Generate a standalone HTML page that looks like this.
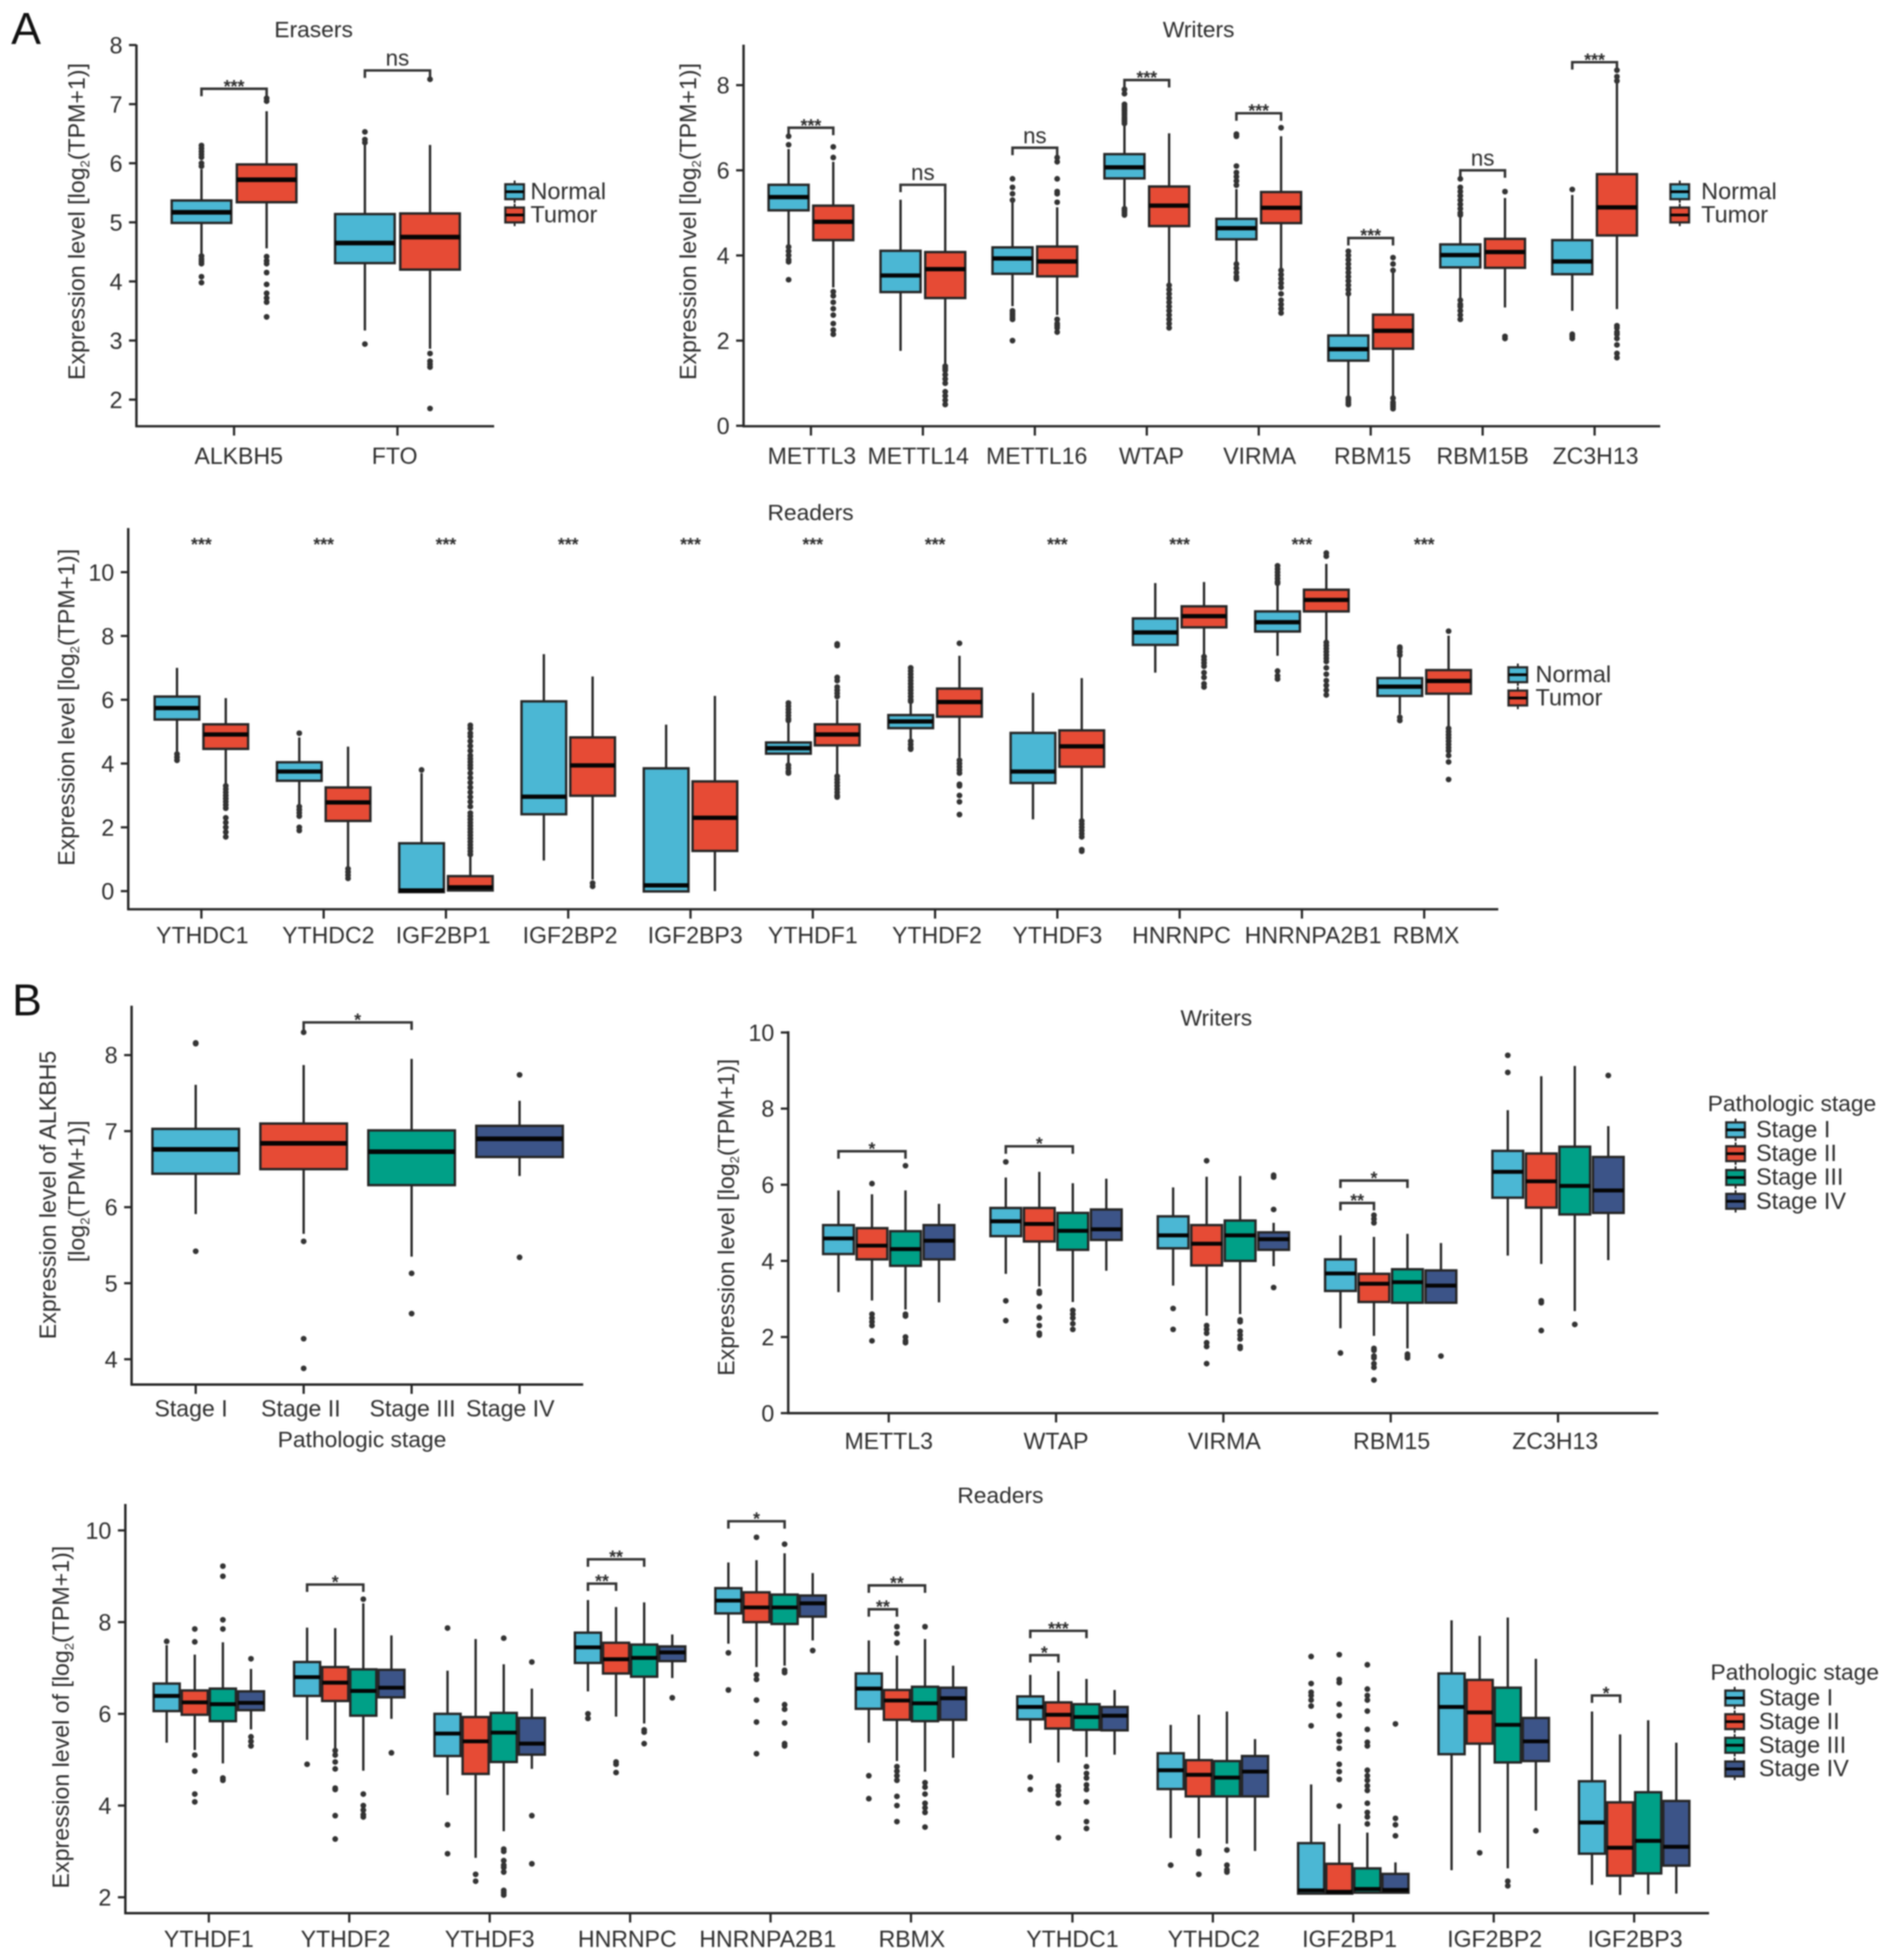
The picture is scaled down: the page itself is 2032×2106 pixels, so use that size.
<!DOCTYPE html>
<html lang="en">
<head>
<meta charset="utf-8">
<title>m6A regulator expression boxplots</title>
<style>
html,body{margin:0;padding:0;background:#fff;}
svg{display:block;filter:blur(0.8px);}
text{font-family:"Liberation Sans",Arial,sans-serif;fill:#2e2e2e;}
</style>
</head>
<body>
<svg id="figure" xmlns="http://www.w3.org/2000/svg" width="2032" height="2106" viewBox="0 0 2032 2106">
  <rect width="2032" height="2106" fill="#fff"/>
  <text x="12" y="47" font-size="48" style="fill:#111">A</text>
  <text x="13" y="1091" font-size="48" style="fill:#111">B</text>

  <text x="337" y="40" font-size="24.5" text-anchor="middle">Erasers</text>
  <text x="1288" y="40" font-size="24.5" text-anchor="middle">Writers</text>
  <text x="871" y="559" font-size="24.5" text-anchor="middle">Readers</text>
  <text x="1307" y="1102" font-size="24.5" text-anchor="middle">Writers</text>
  <text x="1075" y="1615" font-size="24.5" text-anchor="middle">Readers</text>

  <text transform="translate(91,238) rotate(-90)" font-size="24.9" text-anchor="middle">Expression level [log<tspan font-size="14" dy="5">2</tspan><tspan dy="-5">(TPM+1)]</tspan></text>
  <text transform="translate(748,238) rotate(-90)" font-size="24.9" text-anchor="middle">Expression level [log<tspan font-size="14" dy="5">2</tspan><tspan dy="-5">(TPM+1)]</tspan></text>
  <text transform="translate(80,760) rotate(-90)" font-size="24.9" text-anchor="middle">Expression level [log<tspan font-size="14" dy="5">2</tspan><tspan dy="-5">(TPM+1)]</tspan></text>
  <text transform="translate(60,1284) rotate(-90)" font-size="24.9" text-anchor="middle">Expression level of ALKBH5</text>
  <text transform="translate(91,1280) rotate(-90)" font-size="24.9" text-anchor="middle">[log<tspan font-size="14" dy="5">2</tspan><tspan dy="-5">(TPM+1)]</tspan></text>
  <text transform="translate(789,1308) rotate(-90)" font-size="24.9" text-anchor="middle">Expression level [log<tspan font-size="14" dy="5">2</tspan><tspan dy="-5">(TPM+1)]</tspan></text>
  <text transform="translate(74,1845) rotate(-90)" font-size="24.9" text-anchor="middle">Expression level of [log<tspan font-size="14" dy="5">2</tspan><tspan dy="-5">(TPM+1)]</tspan></text>

  <text x="389" y="1555" font-size="24.5" text-anchor="middle">Pathologic stage</text>
  <text x="1826" y="1194" font-size="24.5" transform="translate(9,0)">Pathologic stage</text>
  <text x="1829" y="1805" font-size="24.5" transform="translate(9,0)">Pathologic stage</text>
</svg>

<script>
/* ---------- shared labels and colours ---------- */
const tumorNormalLabels = ["Normal", "Tumor"];
const stageLabels = ["Stage I", "Stage II", "Stage III", "Stage IV"];
const tumorNormalColors = ["#4BB7D4", "#E64B35"];
const stageColors = ["#4BB7D4", "#E64B35", "#00A087", "#3C5488"];

/* ---------- A: Erasers ---------- */
const erasersGenes = ["ALKBH5", "FTO"];
const erasersTicks = [2, 3, 4, 5, 6, 7, 8];
const erasersQ1 = [[4.99, 5.34], [4.31, 4.2]];
const erasersMedian = [[5.17, 5.72], [4.65, 4.75]];
const erasersQ3 = [[5.37, 5.98], [5.14, 5.15]];
const erasersLow = [[4.45, 4.56], [3.17, 2.86]];
const erasersHigh = [[5.9, 6.88], [6.35, 6.31]];
const erasersOutliers = [
  [[6.3, 6.25, 6.2, 6.15, 6.1, 6.0, 5.95, 4.43, 4.38, 4.34, 4.3, 4.08, 3.98],
   [7.1, 7.05, 4.42, 4.35, 4.3, 4.15, 3.95, 3.8, 3.72, 3.65, 3.4]],
  [[6.53, 6.4, 6.35, 2.94],
   [7.42, 2.78, 2.65, 2.6, 2.55, 1.85]]
];
const erasersBrackets = [[0, 0, 1, 7.26, "***"], [1, 0, 1, 7.57, "ns"]];

/* ---------- A: Writers ---------- */
const writersAGenes = ["METTL3", "METTL14", "METTL16", "WTAP", "VIRMA", "RBM15", "RBM15B", "ZC3H13"];
const writersATicks = [0, 2, 4, 6, 8];
const writersAQ1 = [[5.06, 4.36], [3.14, 3.0], [3.57, 3.51], [5.81, 4.69], [4.38, 4.76], [1.53, 1.81], [3.72, 3.71], [3.56, 4.47]];
const writersAMedian = [[5.37, 4.79], [3.53, 3.68], [3.93, 3.86], [6.07, 5.17], [4.64, 5.12], [1.8, 2.23], [4.01, 4.08], [3.86, 5.13]];
const writersAQ3 = [[5.66, 5.17], [4.11, 4.08], [4.19, 4.21], [6.38, 5.62], [4.86, 5.49], [2.12, 2.61], [4.26, 4.39], [4.36, 5.91]];
const writersALow = [[4.26, 3.25], [1.76, 1.43], [2.81, 2.6], [5.13, 3.35], [3.83, 3.68], [0.71, 0.71], [2.99, 2.78], [2.7, 2.74]];
const writersAHigh = [[6.5, 6.2], [5.31, 5.6], [5.27, 5.13], [7.05, 6.87], [5.56, 6.8], [3.07, 3.6], [4.91, 5.35], [5.42, 8.06]];
const writersAOutliers = [
  [[6.8, 6.6, 4.2, 4.1, 4.0, 3.9, 3.85, 3.43],
   [6.55, 6.3, 3.15, 3.05, 2.9, 2.75, 2.6, 2.4, 2.25, 2.15]],
  [[],
   [1.4, 1.35, 1.3, 1.2, 1.1, 1.0, 0.8, 0.7, 0.6, 0.5]],
  [[5.8, 5.6, 5.45, 5.3, 2.7, 2.65, 2.6, 2.55, 2.5, 2.0],
   [6.3, 6.2, 5.8, 5.5, 5.45, 5.25, 2.5, 2.4, 2.35, 2.3, 2.2]],
  [[7.9, 7.8, 7.55, 7.5, 7.45, 7.4, 7.35, 7.3, 7.25, 7.2, 7.15, 7.1, 5.1, 5.05, 5.0, 4.95],
   [3.3, 3.2, 3.1, 3.0, 2.9, 2.8, 2.7, 2.6, 2.5, 2.4, 2.3]],
  [[6.85, 6.8, 6.1, 5.95, 5.85, 5.75, 5.65, 3.8, 3.7, 3.6, 3.5, 3.45],
   [7.0, 3.65, 3.55, 3.45, 3.35, 3.25, 3.1, 2.95, 2.85, 2.75, 2.65]],
  [[4.1, 4.0, 3.9, 3.8, 3.7, 3.6, 3.5, 3.4, 3.3, 3.2, 3.1, 0.65, 0.6, 0.55, 0.5],
   [3.95, 3.8, 3.65, 0.65, 0.55, 0.5, 0.45, 0.4]],
  [[5.8, 5.6, 5.5, 5.4, 5.3, 5.2, 5.1, 5.0, 4.95, 2.95, 2.85, 2.8, 2.7, 2.6, 2.5],
   [5.5, 2.1, 2.05]],
  [[5.55, 2.15, 2.1, 2.05],
   [8.35, 8.2, 8.1, 2.35, 2.3, 2.2, 2.15, 2.05, 1.9, 1.7, 1.6]]
];
const writersABrackets = [
  [0, 0, 1, 7.0, "***"], [1, 0, 1, 5.66, "ns"], [2, 0, 1, 6.53, "ns"], [3, 0, 1, 8.12, "***"],
  [4, 0, 1, 7.34, "***"], [5, 0, 1, 4.41, "***"], [6, 0, 1, 6.0, "ns"], [7, 0, 1, 8.54, "***"]
];

/* ---------- A: Readers ---------- */
const readersAGenes = ["YTHDC1", "YTHDC2", "IGF2BP1", "IGF2BP2", "IGF2BP3", "YTHDF1", "YTHDF2", "YTHDF3", "HNRNPC", "HNRNPA2B1", "RBMX"];
const readersATicks = [0, 2, 4, 6, 8, 10];
const readersAQ1 = [[5.38, 4.46], [3.46, 2.2], [-0.03, 0.02], [2.41, 2.99], [-0.01, 1.26], [4.31, 4.57], [5.11, 5.47], [3.39, 3.9], [7.72, 8.27], [8.14, 8.77], [6.12, 6.19]];
const readersAMedian = [[5.74, 4.91], [3.75, 2.78], [0.02, 0.12], [2.96, 3.94], [0.18, 2.3], [4.48, 4.91], [5.32, 5.93], [3.75, 4.54], [8.11, 8.62], [8.43, 9.13], [6.41, 6.59]];
const readersAQ3 = [[6.1, 5.23], [4.04, 3.25], [1.5, 0.47], [5.95, 4.82], [3.85, 3.44], [4.66, 5.23], [5.52, 6.35], [4.96, 5.04], [8.55, 8.93], [8.77, 9.45], [6.68, 6.93]];
const readersALow = [[4.38, 3.36], [2.73, 0.75], [-0.03, 0.02], [0.96, 0.36], [0, 0], [4.0, 3.65], [4.72, 4.19], [2.25, 2.25], [6.85, 7.38], [7.38, 7.82], [5.54, 5.1]];
const readersAHigh = [[7.0, 6.05], [4.82, 4.53], [3.7, 1.13], [7.43, 6.73], [5.22, 6.12], [5.3, 6.0], [5.9, 7.38], [6.22, 6.68], [9.66, 9.69], [9.6, 10.26], [7.33, 8.01]];
const readersAOutliers = [
  [[4.3, 4.2, 4.1],
   [3.3, 3.2, 3.1, 3.0, 2.9, 2.8, 2.7, 2.6, 2.3, 2.15, 2.0, 1.85, 1.7]],
  [[4.95, 2.65, 2.55, 2.45, 2.35, 2.0, 1.9],
   [0.7, 0.6, 0.5, 0.4]],
  [[3.8],
   [5.2, 5.1, 4.95, 4.85, 4.7, 4.55, 4.4, 4.25, 4.15, 4.05, 3.95, 3.85, 3.7, 3.55, 3.4, 3.25, 3.1, 2.95, 2.8, 2.65, 2.45, 2.35, 2.25, 2.15, 2.05, 1.95, 1.85, 1.75, 1.65, 1.55, 1.45, 1.35, 1.25, 1.15]],
  [[],
   [0.25, 0.15]],
  [[],
   []],
  [[5.9, 5.8, 5.7, 5.6, 5.5, 5.4, 5.35, 3.95, 3.85, 3.75, 3.7],
   [7.75, 7.7, 6.7, 6.6, 6.4, 6.3, 6.2, 6.1, 3.6, 3.5, 3.4, 3.3, 3.2, 3.1, 3.0, 2.95]],
  [[7.0, 6.9, 6.8, 6.7, 6.6, 6.5, 6.4, 6.3, 6.2, 6.1, 6.0, 5.95, 4.7, 4.6, 4.5, 4.45],
   [7.77, 4.1, 4.0, 3.9, 3.8, 3.7, 3.35, 3.3, 3.0, 2.8, 2.4]],
  [[],
   [2.2, 2.1, 2.0, 1.9, 1.8, 1.7, 1.3, 1.25]],
  [[],
   [7.35, 7.25, 7.15, 7.05, 6.85, 6.7, 6.5, 6.4]],
  [[10.2, 10.1, 10.0, 9.9, 9.8, 9.7, 9.65, 6.9, 6.75, 6.65],
   [10.6, 10.5, 7.8, 7.7, 7.6, 7.5, 7.4, 7.3, 7.2, 7.0, 6.8, 6.6, 6.45, 6.3, 6.15]],
  [[7.65, 7.6, 7.5, 7.4, 5.45, 5.35],
   [8.15, 5.1, 5.0, 4.9, 4.8, 4.7, 4.6, 4.5, 4.4, 4.25, 4.05, 3.5]]
];
const readersASignificance = ["***", "***", "***", "***", "***", "***", "***", "***", "***", "***", "***"];
const readersASignificanceLevel = 10.97;

/* ---------- B: ALKBH5 by stage ---------- */
const alkbh5Stages = ["Stage I", "Stage II", "Stage III", "Stage IV"];
const alkbh5Ticks = [4, 5, 6, 7, 8];
const alkbh5Q1 = [[6.44], [6.5], [6.29], [6.66]];
const alkbh5Median = [[6.76], [6.84], [6.73], [6.9]];
const alkbh5Q3 = [[7.03], [7.1], [7.01], [7.07]];
const alkbh5Low = [[5.91], [5.65], [5.35], [6.41]];
const alkbh5High = [[7.61], [7.87], [7.95], [7.4]];
const alkbh5Outliers = [[[8.16, 8.15, 5.42]], [[8.3, 5.55, 4.27, 3.88]], [[5.13, 4.6]], [[7.74, 5.34]]];
const alkbh5Brackets = [[1, 2, 8.43, "*"]];

/* ---------- B: Writers ---------- */
const writersBGenes = ["METTL3", "WTAP", "VIRMA", "RBM15", "ZC3H13"];
const writersBTicks = [0, 2, 4, 6, 8, 10];
const writersBQ1 = [[4.18, 4.04, 3.87, 4.04], [4.65, 4.51, 4.29, 4.55], [4.33, 3.88, 4.0, 4.29], [3.21, 2.92, 2.9, 2.9], [5.66, 5.4, 5.22, 5.26]];
const writersBMedian = [[4.59, 4.4, 4.31, 4.53], [5.04, 4.97, 4.79, 4.83], [4.67, 4.45, 4.67, 4.57], [3.67, 3.4, 3.44, 3.35], [6.34, 6.09, 5.97, 5.85]];
const writersBQ3 = [[4.94, 4.86, 4.78, 4.94], [5.39, 5.39, 5.26, 5.35], [5.17, 4.94, 5.06, 4.75], [4.04, 3.66, 3.78, 3.75], [6.89, 6.82, 7.0, 6.73]];
const writersBLow = [[3.18, 2.96, 2.72, 2.91], [3.66, 3.33, 2.92, 3.74], [3.35, 2.56, 2.6, 3.86], [2.23, 2.03, 1.7, 2.88], [4.14, 3.92, 2.68, 4.02]];
const writersBHigh = [[5.85, 5.75, 5.85, 5.5], [6.19, 6.34, 6.04, 6.16], [5.93, 6.21, 6.23, 5.0], [4.67, 4.63, 4.71, 4.47], [7.96, 8.85, 9.12, 7.54]];
const writersBOutliers = [
  [[], [6.03, 2.6, 2.5, 2.4, 2.3, 1.9], [6.5, 2.6, 2.55, 2.0, 1.9, 1.85], []],
  [[6.6, 2.95, 2.43], [3.2, 3.15, 2.8, 2.5, 2.3, 2.1, 2.05], [2.7, 2.6, 2.5, 2.35, 2.2], []],
  [[2.75, 2.2], [6.63, 2.3, 2.2, 2.1, 1.85, 1.75, 1.3], [2.45, 2.4, 2.15, 2.05, 1.95, 1.75, 1.7], [6.25, 6.2, 5.35, 3.3]],
  [[1.58], [5.2, 5.1, 5.0, 1.7, 1.65, 1.5, 1.45, 1.3, 1.2, 0.87], [1.55, 1.5, 1.45], [1.5]],
  [[9.4, 8.95], [2.95, 2.9, 2.17], [2.33], [8.87]]
];
const writersBBrackets = [
  [0, 0, 2, 6.88, "*"], [1, 0, 2, 7.01, "*"], [3, 0, 1, 5.52, "**"], [3, 0, 2, 6.11, "*"]
];

/* ---------- B: Readers ---------- */
const readersBGenes = ["YTHDF1", "YTHDF2", "YTHDF3", "HNRNPC", "HNRNPA2B1", "RBMX", "YTHDC1", "YTHDC2", "IGF2BP1", "IGF2BP2", "IGF2BP3"];
const readersBTicks = [2, 4, 6, 8, 10];
const readersBQ1 = [[6.06, 5.98, 5.84, 6.08], [6.39, 6.28, 5.96, 6.36], [5.08, 4.69, 4.95, 5.11], [7.11, 6.88, 6.81, 7.15], [8.19, 8.0, 7.96, 8.12], [6.11, 5.87, 5.84, 5.87], [5.88, 5.68, 5.65, 5.64], [4.36, 4.2, 4.2, 4.2], [2.08, 2.08, 2.1, 2.1], [5.12, 5.35, 4.94, 4.97], [2.95, 2.47, 2.52, 2.69]];
const readersBMedian = [[6.39, 6.25, 6.21, 6.24], [6.8, 6.68, 6.5, 6.57], [5.57, 5.4, 5.59, 5.35], [7.45, 7.19, 7.22, 7.34], [8.47, 8.32, 8.32, 8.41], [6.55, 6.29, 6.23, 6.34], [6.15, 5.98, 5.93, 5.96], [4.77, 4.67, 4.61, 4.74], [2.15, 2.12, 2.18, 2.16], [6.15, 6.03, 5.76, 5.4], [3.63, 3.08, 3.23, 3.1]];
const readersBQ3 = [[6.66, 6.51, 6.55, 6.49], [7.13, 7.02, 6.97, 6.96], [6.0, 5.93, 6.02, 5.91], [7.77, 7.55, 7.51, 7.47], [8.74, 8.65, 8.6, 8.58], [6.88, 6.52, 6.59, 6.57], [6.38, 6.25, 6.21, 6.15], [5.14, 4.99, 4.97, 5.08], [3.18, 2.73, 2.63, 2.51], [6.88, 6.74, 6.57, 5.91], [4.53, 4.07, 4.29, 4.1]];
const readersBLow = [[5.37, 5.21, 4.92, 5.66], [5.43, 5.2, 4.76, 5.89], [4.23, 2.86, 3.44, 4.8], [6.49, 5.94, 5.79, 6.78], [7.53, 7.02, 7.05, 7.6], [5.37, 4.97, 4.74, 5.04], [5.36, 4.94, 5.06, 5.11], [3.29, 3.29, 3.17, 3.01], [2.08, 2.08, 2.1, 2.1], [2.59, 3.41, 2.63, 3.89], [2.27, 2.05, 2.06, 2.08]];
const readersBHigh = [[7.5, 7.29, 7.56, 6.98], [7.88, 7.87, 8.41, 7.71], [6.94, 7.63, 7.08, 6.55], [8.48, 8.33, 8.43, 7.73], [9.3, 9.35, 9.5, 9.07], [7.6, 7.27, 7.63, 7.05], [6.85, 6.93, 6.76, 6.52], [5.76, 5.98, 6.05, 5.45], [4.46, 3.6, 3.41, 2.76], [8.04, 7.7, 8.1, 7.2], [6.05, 5.55, 5.86, 5.37]];
const readersBOutliers = [
  [[7.58], [7.85, 7.57, 5.1, 4.75, 4.25, 4.08], [9.22, 9.0, 8.05, 7.85, 4.6, 4.55], [7.2, 5.5, 5.4, 5.3]],
  [[4.9], [5.2, 5.1, 4.95, 4.8, 4.38, 4.35, 3.78, 3.27], [8.5, 4.25, 4.0, 3.9, 3.8, 3.75], [5.15]],
  [[7.87, 3.58, 2.95], [2.5, 2.35], [7.65, 3.05, 3.0, 2.8, 2.7, 2.65, 2.55, 2.15, 2.1, 2.05], [7.13, 3.78, 2.73]],
  [[6.0, 5.9], [4.95, 4.9, 4.72], [5.65, 5.6, 5.35], [6.35]],
  [[7.33, 6.52], [9.85, 6.85, 6.75, 6.3, 5.82, 5.13], [9.7, 6.95, 6.9, 6.2, 6.1, 5.8, 5.35, 5.3], [7.38]],
  [[4.65, 4.15], [7.9, 7.75, 7.55, 4.85, 4.75, 4.65, 4.55, 4.2, 4.0, 3.65], [7.9, 4.5, 4.4, 4.25, 4.05, 3.95, 3.85, 3.53], []],
  [[4.62, 4.35], [4.42, 4.33, 4.23, 4.05, 3.3], [4.85, 4.7, 4.6, 4.45, 4.35, 4.08, 3.65, 3.5], []],
  [[2.7], [3.0, 2.95, 2.5], [3.03, 2.7, 2.6, 2.55], []],
  [[7.25, 6.66, 6.47, 6.4, 6.3, 6.17, 5.74], [7.29, 6.75, 6.68, 6.21, 5.96, 5.55, 5.4, 5.25, 4.9, 4.74, 4.57, 3.99], [7.07, 6.54, 6.4, 6.3, 6.06, 5.66, 5.38, 5.3, 4.77, 4.65, 4.55, 4.43, 4.33, 4.05, 3.85, 3.75, 3.6], [5.78, 3.72, 3.58, 3.34]],
  [[], [2.97], [2.35, 2.25], [3.45]],
  [[], [], [], []]
];
const readersBBrackets = [
  [1, 0, 2, 8.82, "*"], [3, 0, 2, 9.37, "**"], [3, 0, 1, 8.84, "**"], [4, 0, 2, 10.2, "*"],
  [5, 0, 2, 8.8, "**"], [5, 0, 1, 8.28, "**"], [6, 0, 2, 7.81, "***"], [6, 0, 1, 7.28, "*"], [10, 0, 1, 6.4, "*"]
];

/* ---------- drawing ---------- */
const SVGNS = "http://www.w3.org/2000/svg";
const figure = document.getElementById("figure");
const INK = "#262626";

function mk(tag, attrs, parent) {
  const node = document.createElementNS(SVGNS, tag);
  for (const key in attrs) node.setAttribute(key, attrs[key]);
  parent.appendChild(node);
  return node;
}

function drawPanel(p) {
  const root = mk("g", {}, figure);
  
  

  const yScale = v => p.y0 + (v - p.v0) * (p.y1 - p.y0) / (p.v1 - p.v0);
  const bandScale = i => p.first + i * p.step + (p.gapAfter !== undefined && i > p.gapAfter ? p.gap : 0);
  const groupCount = p.q1[0].length;
  const xScale = (i, g) => bandScale(i) + (g - (groupCount - 1) / 2) * p.dodge;
  const base = p.baseline;

  const yAxis = mk("line", {x1: p.left, x2: p.left, y1: p.top, y2: base + 1, stroke: INK, "stroke-width": 2.6}, root);
  
  
  const xAxis = mk("line", {x1: p.left - 1, x2: p.right, y1: base, y2: base, stroke: INK, "stroke-width": 2.6}, root);
  
  

  p.ticks.forEach(v => {
    const yy = yScale(v);
    const tick = mk("line", {x1: p.left - 8, x2: p.left, y1: yy, y2: yy, stroke: INK, "stroke-width": 2.4}, root);
    
    
    const lab = mk("text", {x: p.left - 15, y: yy + 9, "font-size": 25, "text-anchor": "end"}, root);
    lab.textContent = v;
    
    
  });

  p.genes.forEach((gene, i) => {
    const xx = bandScale(i);
    const tick = mk("line", {x1: xx, x2: xx, y1: base, y2: base + 10, stroke: INK, "stroke-width": 2.4}, root);
    
    
    const lab = mk("text", {x: xx + p.labelShift[i], y: p.labelY, "font-size": 24.8, "text-anchor": "middle"}, root);
    lab.textContent = gene;
    
    

    for (let g = 0; g < groupCount; g++) {
      const cx = xScale(i, g);
      const fill = p.colorByCategory ? p.colors[i] : p.colors[g];
      const gBox = mk("g", {}, root);
      
      

      const whisker = mk("line", {x1: cx, x2: cx, y1: yScale(p.high[i][g]), y2: yScale(p.low[i][g]), stroke: INK, "stroke-width": 2.5}, gBox);
      
      

      const top = yScale(p.q3[i][g]);
      const bottom = yScale(p.q1[i][g]);
      const box = mk("rect", {x: cx - p.boxWidth / 2, y: top, width: p.boxWidth, height: bottom - top, fill: fill, stroke: INK, "stroke-width": 2.6}, gBox);
      
      

      const my = yScale(p.median[i][g]);
      const med = mk("line", {x1: cx - p.boxWidth / 2, x2: cx + p.boxWidth / 2, y1: my, y2: my, stroke: "#050505", "stroke-width": p.medianWidth}, gBox);
      
      

      p.outliers[i][g].forEach(v => {
        const dot = mk("circle", {cx: cx, cy: yScale(v), r: 3.1, fill: "#333"}, gBox);
        
        
      });
    }
  });

  (p.brackets || []).forEach(b => {
    const xa = groupCount === 1 ? xScale(b[0], 0) : xScale(b[0], b[1]);
    const xb = groupCount === 1 ? xScale(b[1], 0) : xScale(b[0], b[2]);
    const val = groupCount === 1 ? b[2] : b[3];
    const label = groupCount === 1 ? b[3] : b[4];
    const yb = yScale(val);
    const path = mk("path", {d: "M" + xa + " " + (yb + 8) + "V" + yb + "H" + xb + "V" + (yb + 8), fill: "none", stroke: "#333", "stroke-width": 2.7}, root);
    
    
    const isNs = label === "ns";
    const txt = mk("text", {x: (xa + xb) / 2, y: isNs ? yb - 5 : yb + 4, "font-size": isNs ? 24 : 19, "font-weight": isNs ? "normal" : "bold", "text-anchor": "middle"}, root);
    txt.textContent = label;
    
    
  });

  (p.significance || []).forEach((label, i) => {
    const txt = mk("text", {x: bandScale(i), y: yScale(p.significanceLevel) + 10, "font-size": 19, "font-weight": "bold", "text-anchor": "middle"}, root);
    txt.textContent = label;
    
    
  });
}

function drawLegend(name, keyX, textX, firstY, gap, labels, colors) {
  const root = mk("g", {}, figure);
  
  
  labels.forEach((label, i) => {
    const yy = firstY + i * gap;
    const entry = mk("g", {}, root);
    
    
    mk("line", {x1: keyX, x2: keyX, y1: yy - 12, y2: yy + 12, stroke: INK, "stroke-width": 2}, entry);
    mk("rect", {x: keyX - 10, y: yy - 8, width: 20, height: 16, fill: colors[i], stroke: INK, "stroke-width": 2.4}, entry);
    mk("line", {x1: keyX - 10, x2: keyX + 10, y1: yy, y2: yy, stroke: "#050505", "stroke-width": 3}, entry);
    const txt = mk("text", {x: textX, y: yy + 8, "font-size": 25.2}, entry);
    txt.textContent = label;
  });
}

drawPanel({name: "erasers", genes: erasersGenes, ticks: erasersTicks, q1: erasersQ1, median: erasersMedian, q3: erasersQ3,
  low: erasersLow, high: erasersHigh, outliers: erasersOutliers, brackets: erasersBrackets, colors: tumorNormalColors,
  left: 146.6, right: 531, top: 48, baseline: 458, v0: 2, y0: 429.4, v1: 8, y1: 48.4,
  first: 251.5, step: 175.6, dodge: 70, boxWidth: 64, medianWidth: 5, labelY: 498.5, labelShift: [5, -3]});

drawPanel({name: "writers-a", genes: writersAGenes, ticks: writersATicks, q1: writersAQ1, median: writersAMedian, q3: writersAQ3,
  low: writersALow, high: writersAHigh, outliers: writersAOutliers, brackets: writersABrackets, colors: tumorNormalColors,
  left: 799, right: 1784, top: 48, baseline: 458, v0: 0, y0: 457.5, v1: 8, y1: 91.5,
  first: 871.4, step: 120.3, dodge: 48, boxWidth: 43, medianWidth: 4.6, labelY: 498.5, labelShift: [1, -5, 2, 5, 1, 2, 0, 1]});

drawPanel({name: "readers-a", genes: readersAGenes, ticks: readersATicks, q1: readersAQ1, median: readersAMedian, q3: readersAQ3,
  low: readersALow, high: readersAHigh, outliers: readersAOutliers, significance: readersASignificance, significanceLevel: readersASignificanceLevel, colors: tumorNormalColors,
  left: 137.8, right: 1610, top: 567.4, baseline: 977, v0: 0, y0: 957.5, v1: 10, y1: 614.8,
  first: 216.4, step: 131.4, dodge: 52.4, boxWidth: 48, medianWidth: 4.6, labelY: 1013.5, labelShift: [1, 5, -3, 2, 5, 0, 2, 0, 2, 12, 2]});

drawPanel({name: "alkbh5", genes: alkbh5Stages, ticks: alkbh5Ticks, q1: alkbh5Q1, median: alkbh5Median, q3: alkbh5Q3,
  low: alkbh5Low, high: alkbh5High, outliers: alkbh5Outliers, brackets: alkbh5Brackets, colors: stageColors, colorByCategory: true,
  left: 141.4, right: 626.7, top: 1080.6, baseline: 1487.7, v0: 4, y0: 1460.5, v1: 8, y1: 1133.7,
  first: 210.3, step: 116, dodge: 0, boxWidth: 93, medianWidth: 5, labelY: 1522, labelShift: [-5, -3, 1, -10]});

drawPanel({name: "writers-b", genes: writersBGenes, ticks: writersBTicks, q1: writersBQ1, median: writersBMedian, q3: writersBQ3,
  low: writersBLow, high: writersBHigh, outliers: writersBOutliers, brackets: writersBBrackets, colors: stageColors,
  left: 847, right: 1782, top: 1108, baseline: 1518.4, v0: 0, y0: 1518.4, v1: 10, y1: 1109.4,
  first: 955, step: 179.8, dodge: 36, boxWidth: 33, medianWidth: 4.2, labelY: 1557, labelShift: [0, 0, 1, 1, -3]});

drawPanel({name: "readers-b", genes: readersBGenes, ticks: readersBTicks, q1: readersBQ1, median: readersBMedian, q3: readersBQ3,
  low: readersBLow, high: readersBHigh, outliers: readersBOutliers, brackets: readersBBrackets, colors: stageColors,
  left: 134.7, right: 1836.5, top: 1616, baseline: 2055.7, v0: 2, y0: 2038.6, v1: 10, y1: 1644.4,
  first: 224.4, step: 150.9, gapAfter: 5, gap: 22.6, dodge: 30.2, boxWidth: 28, medianWidth: 4.2, labelY: 2092, labelShift: [0, -4, 0, -3, -3, 1, 0, 1, -4, 1, 1]});

drawLegend("erasers-legend", 553, 570, 206, 25, tumorNormalLabels, tumorNormalColors);
drawLegend("writers-a-legend", 1805, 1828, 206, 25, tumorNormalLabels, tumorNormalColors);
drawLegend("readers-a-legend", 1631, 1650, 725, 25, tumorNormalLabels, tumorNormalColors);
drawLegend("writers-b-legend", 1865, 1887, 1214, 25.6, stageLabels, stageColors);
drawLegend("readers-b-legend", 1864, 1890, 1824.5, 25.4, stageLabels, stageColors);
</script>
</body>
</html>
